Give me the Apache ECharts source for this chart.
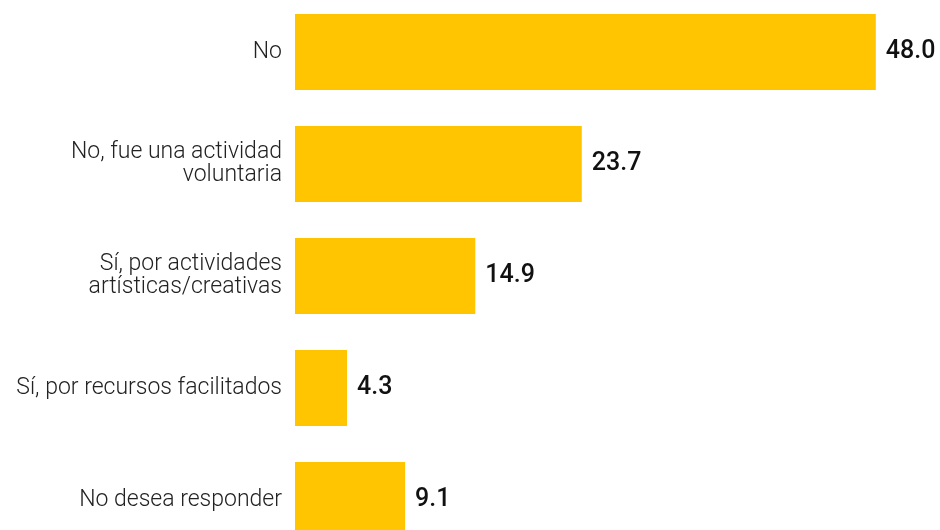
<!DOCTYPE html>
<html>
<head>
<meta charset="utf-8">
<script src="https://cdn.jsdelivr.net/npm/echarts@6/dist/echarts.min.js"></script>
<style>
  html, body { margin: 0; padding: 0; background: #fff; }
  #main { width: 940px; height: 530px; }
</style>
</head>
<body>
<div id="main"></div>
<script>
const categories = [
  "No",
  "No, fue una actividad\nvoluntaria",
  "Sí, por actividades\nartísticas/creativas",
  "Sí, por recursos facilitados",
  "No desea responder",
];
const values = [48.0, 23.7, 14.9, 4.3, 9.1];

const chart = echarts.init(document.getElementById("main"));

const options = {
  animation: false,
  grid: {
    left: 295,
    top: -4,
    width: 605,
    height: 560,
    outerBoundsMode: "none",
    containLabel: false,
  },
  xAxis: {
    type: "value",
    min: 0,
    max: 50,
    show: false,
  },
  yAxis: {
    type: "category",
    inverse: true,
    data: categories,
    axisLine: { show: false },
    axisTick: { show: false },
    axisLabel: {
      margin: 13,
      color: "#222",
      fontFamily: "Roboto",
      fontWeight: 300,
      fontSize: 23,
      lineHeight: 23,
      align: "right",
    },
  },
  series: [
    {
      type: "bar",
      data: values,
      barCategoryGap: "32%",
      itemStyle: { color: "#ffc500" },
      label: {
        show: true,
        position: "right",
        distance: 10,
        color: "#111",
        fontFamily: "Roboto",
        fontWeight: 500,
        fontSize: 25,
        formatter: (p) => p.value.toFixed(1),
      },
    },
  ],
};

chart.setOption(options);
</script>
</body>
</html>
